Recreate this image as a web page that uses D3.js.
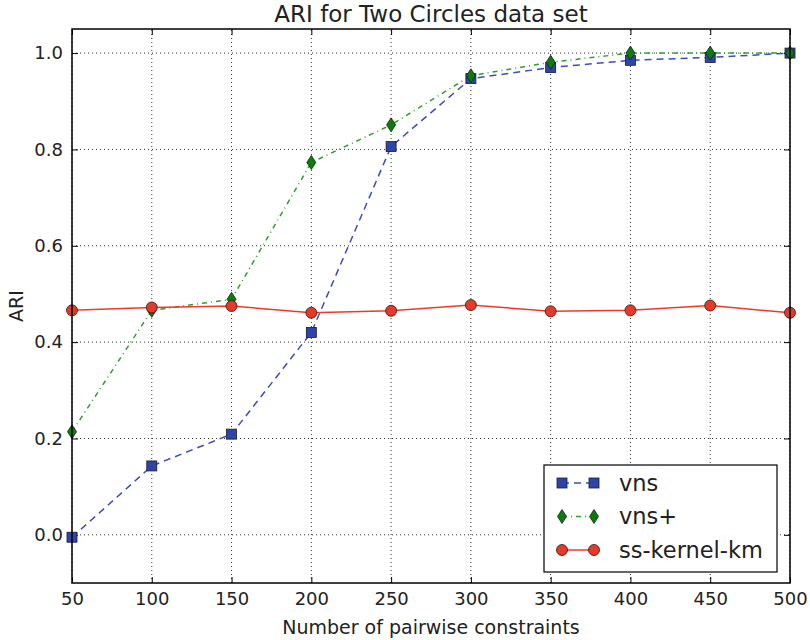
<!DOCTYPE html>
<html>
<head>
<meta charset="utf-8">
<script src="https://cdn.jsdelivr.net/npm/d3@7"></script>
<style>
  body { margin: 0; background: #fff; }
  text { font-family: "DejaVu Sans", sans-serif; fill: #222; }
</style>
</head>
<body>
<svg id="chart"></svg>
<script>
// ARI for Two Circles data set

const constraints = [50, 100, 150, 200, 250, 300, 350, 400, 450, 500];
const vns = [-0.005, 0.143, 0.209, 0.42, 0.806, 0.947, 0.970, 0.985, 0.991, 1.0];
const vnsPlus = [0.214, 0.466, 0.489, 0.773, 0.851, 0.953, 0.981, 1.0, 1.0, 1.0];
const ssKernel = [0.466, 0.472, 0.475, 0.461, 0.465, 0.477, 0.464, 0.466, 0.476, 0.461];
const xTicks = [50, 100, 150, 200, 250, 300, 350, 400, 450, 500];
const yTicks = [0.0, 0.2, 0.4, 0.6, 0.8, 1.0];

const width = 810, height = 640;
const margin = { top: 29, right: 20, bottom: 57, left: 72 };

const svg = d3.select("#chart").attr("width", width).attr("height", height);

const x = d3.scaleLinear().domain([50, 500]).range([margin.left, width - margin.right]);
const y = d3.scaleLinear().domain([-0.1, 1.05]).range([height - margin.bottom, margin.top]);

const plot = svg.append("g");

// grid
plot.append("g")
    .selectAll("line")
    .data(xTicks)
    .join("line")
    .attr("x1", d => x(d)).attr("x2", d => x(d))
    .attr("y1", y.range()[0]).attr("y2", y.range()[1])
    .attr("stroke", "#333").attr("stroke-width", 1)
    .attr("stroke-dasharray", "1,3");

plot.append("g")
    .selectAll("line")
    .data(yTicks)
    .join("line")
    .attr("x1", x.range()[0]).attr("x2", x.range()[1])
    .attr("y1", d => y(d)).attr("y2", d => y(d))
    .attr("stroke", "#333").attr("stroke-width", 1)
    .attr("stroke-dasharray", "1,3");

// axes with inward ticks
const tickLen = 6;
const xb = svg.append("g").attr("transform", `translate(0,${y(-0.1)})`)
    .call(d3.axisBottom(x).tickValues(xTicks).tickSizeInner(-tickLen).tickSizeOuter(0).tickPadding(9).tickFormat(d3.format("d")));
const xt = svg.append("g").attr("transform", `translate(0,${y(1.05)})`)
    .call(d3.axisTop(x).tickValues(xTicks).tickSizeInner(-tickLen).tickSizeOuter(0).tickFormat(""));
const yl = svg.append("g").attr("transform", `translate(${x(50)},0)`)
    .call(d3.axisLeft(y).tickValues(yTicks).tickSizeInner(-tickLen).tickSizeOuter(0).tickPadding(9).tickFormat(d3.format(".1f")));
const yr = svg.append("g").attr("transform", `translate(${x(500)},0)`)
    .call(d3.axisRight(y).tickValues(yTicks).tickSizeInner(-tickLen).tickSizeOuter(0).tickFormat(""));

[xb, xt, yl, yr].forEach(g => {
    g.attr("font-size", 18).attr("font-family", "DejaVu Sans, sans-serif");
    g.select(".domain").remove();
    g.selectAll(".tick line").attr("stroke", "#000");
    g.selectAll(".tick text").attr("fill", "#222");
});

// lines
const series = [
    { name: "vns", values: vns, line: "#3a4cc0", fill: "#2e44a8", dash: "7,5", marker: "square" },
    { name: "vns+", values: vnsPlus, line: "#2ea02e", fill: "#0f7a0f", dash: "5,4,1,4", marker: "diamond" },
    { name: "ss-kernel-km", values: ssKernel, line: "#ee3a2a", fill: "#e33a2a", dash: null, marker: "circle" }
];

const lineGen = d3.line().x(d => x(d[0])).y(d => y(d[1]));

function drawMarker(g, type, cx, cy, fill) {
    if (type === "square") {
        g.append("rect").attr("x", cx - 5).attr("y", cy - 5).attr("width", 10).attr("height", 10)
            .attr("fill", fill).attr("stroke", "#1a1a3a").attr("stroke-width", 0.8);
    } else if (type === "diamond") {
        g.append("path").attr("d", `M${cx},${cy - 7}L${cx + 4.5},${cy}L${cx},${cy + 7}L${cx - 4.5},${cy}Z`)
            .attr("fill", fill).attr("stroke", "#0a2a0a").attr("stroke-width", 0.8);
    } else {
        g.append("circle").attr("cx", cx).attr("cy", cy).attr("r", 5.5)
            .attr("fill", fill).attr("stroke", "#3a1010").attr("stroke-width", 0.8);
    }
}

series.forEach(s => {
    const pts = constraints.map((c, i) => [c, s.values[i]]);
    svg.append("path")
        .attr("d", lineGen(pts))
        .attr("fill", "none")
        .attr("stroke", s.line)
        .attr("stroke-width", 1.5)
        .attr("stroke-dasharray", s.dash);
});
series.forEach(s => {
    const g = svg.append("g");
    constraints.forEach((c, i) => drawMarker(g, s.marker, x(c), y(s.values[i]), s.fill));
});

// frame
svg.append("rect")
    .attr("x", x(50)).attr("y", y(1.05))
    .attr("width", x(500) - x(50)).attr("height", y(-0.1) - y(1.05))
    .attr("fill", "none").attr("stroke", "#000").attr("stroke-width", 1.5);

// titles
svg.append("text").attr("x", (x(50) + x(500)) / 2).attr("y", 22)
    .attr("text-anchor", "middle").attr("font-size", 23).text("ARI for Two Circles data set");
svg.append("text").attr("x", (x(50) + x(500)) / 2).attr("y", 634)
    .attr("text-anchor", "middle").attr("font-size", 19).text("Number of pairwise constraints");
svg.append("text").attr("transform", `translate(22.5,${(y(-0.1) + y(1.05)) / 2}) rotate(-90)`)
    .attr("text-anchor", "middle").attr("font-size", 19).text("ARI");

// legend
const legend = svg.append("g");
legend.append("rect").attr("x", 544).attr("y", 465).attr("width", 233).attr("height", 107)
    .attr("fill", "#fff").attr("stroke", "#000").attr("stroke-width", 1.2);
series.forEach((s, i) => {
    const ly = 483 + i * 33.5;
    legend.append("line").attr("x1", 562).attr("x2", 594).attr("y1", ly).attr("y2", ly)
        .attr("stroke", s.line).attr("stroke-width", 1.5).attr("stroke-dasharray", s.dash);
    drawMarker(legend, s.marker, 562, ly, s.fill);
    drawMarker(legend, s.marker, 594, ly, s.fill);
    legend.append("text").attr("x", 619).attr("y", ly).attr("dy", "0.35em")
        .attr("font-size", 22.5).text(s.name);
});
</script>
</body>
</html>
